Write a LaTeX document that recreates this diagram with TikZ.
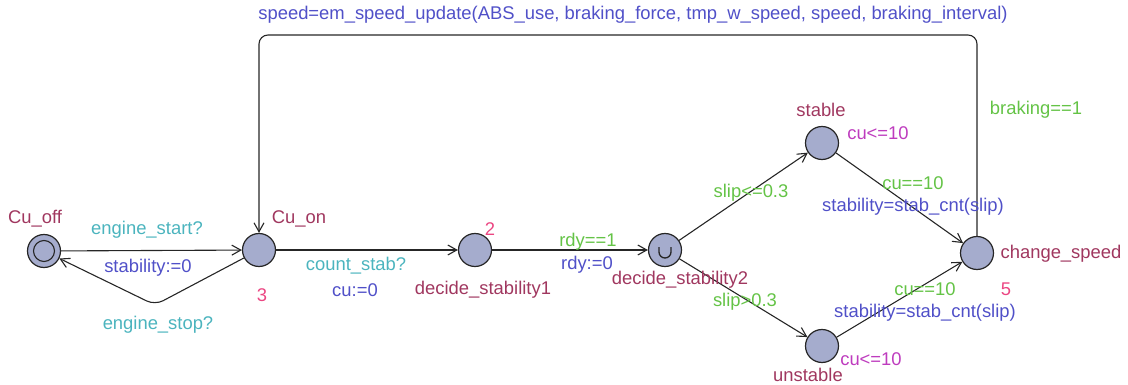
\documentclass[tikz,border=0pt]{standalone}
\usepackage{fontspec}
\setmainfont{Liberation Sans}
\usetikzlibrary{arrows.meta}
\definecolor{locname}{RGB}{160,55,95}
\definecolor{sync}{RGB}{75,180,190}
\definecolor{assign}{RGB}{80,80,200}
\definecolor{guard}{RGB}{100,195,70}
\definecolor{inv}{RGB}{190,60,190}
\definecolor{rate}{RGB}{235,70,130}
\definecolor{locfill}{RGB}{165,172,205}
\tikzset{
  loc/.style={circle,draw=black!85,line width=1.2pt,fill=locfill,minimum size=33pt,inner sep=0pt},
  lbl/.style={font=\fontsize{18.4}{21}\selectfont,inner sep=0pt},
  nm/.style={lbl,text=locname},
  sy/.style={lbl,text=sync},
  as/.style={lbl,text=assign},
  gd/.style={lbl,text=guard},
  iv/.style={lbl,text=inv},
  rt/.style={lbl,text=rate},
  edge/.style={draw=black!85,line width=1.1pt,-{Straight Barb[length=9pt,width=10pt,line width=1.1pt]}},
}
\begin{document}
\begin{tikzpicture}[x=1pt,y=-1pt]
\useasboundingbox (0,0) rectangle (1128,385);
% locations
\node[loc] (off) at (44,251) {};
\draw[draw=black!85,line width=1.1pt] (off.center) circle[radius=10.5];
\node[loc] (on) at (259,250) {};
\node[loc] (ds1) at (475,250) {};
\node[loc] (ds2) at (665,250) {};
% committed mark
\draw[draw=black!85,line width=1.3pt] ([shift={(-6,-3)}]ds2.center) -- ++(0,5) arc[start angle=180,end angle=0,radius=6] -- ++(0,-5);
\node[loc] (st) at (822,143) {};
\node[loc] (un) at (822,346) {};
\node[loc] (cs) at (977,253) {};
% bend points
\coordinate (stopbend) at (155,305);
\coordinate (topR) at (977,35);
\coordinate (topL) at (259,35);
% edges
\draw[edge] (off) -- (on);
\draw[edge,rounded corners=9pt] (on) -- (stopbend) -- (off);
\draw[edge] (on) -- (ds1);
\draw[edge] (ds1) -- (ds2);
\draw[edge] (ds2) -- (st);
\draw[edge] (ds2) -- (un);
\draw[edge] (st) -- (cs);
\draw[edge] (un) -- (cs);
\draw[edge,rounded corners=9pt] (cs) -- (topR) -- (topL) -- (on);
% location names and invariants
\node[nm] (offn) at (35,219) {Cu\_off};
\node[nm] (onn) at (299,219) {Cu\_on};
\node[rt] (onr) at (262,295) {3};
\node[nm] (ds1n) at (483,290) {decide\_stability1};
\node[rt] (ds1r) at (490,229) {2};
\node[nm] (ds2n) at (680,280) {decide\_stability2};
\node[nm] (stn) at (821,110) {stable};
\node[iv] (sti) at (878,133) {cu<=10};
\node[nm] (unn) at (808,375) {unstable};
\node[iv] (uni) at (871,359) {cu<=10};
\node[nm] (csn) at (1061,254) {change\_speed};
\node[rt] (csr) at (1006,289) {5};
% edge labels
\node[sy] at (147,230) {engine\_start?};
\node[as] at (148,268) {stability:=0};
\node[sy] at (158,325) {engine\_stop?};
\node[sy] at (356,266) {count\_stab?};
\node[as] at (355,290) {cu:=0};
\node[gd] at (588,242) {rdy==1};
\node[as] at (587,265) {rdy:=0};
\node[gd] at (751,193) {slip<=0.3};
\node[gd] at (745,302) {slip>0.3};
\node[gd] at (913,183) {cu==10};
\node[as] at (913,207) {stability=stab\_cnt(slip)};
\node[gd] at (925,289) {cu==10};
\node[as] at (925,313) {stability=stab\_cnt(slip)};
\node[gd] at (1036,110) {braking==1};
\node[as] at (633,15) {speed=em\_speed\_update(ABS\_use, braking\_force, tmp\_w\_speed, speed, braking\_interval)};
\end{tikzpicture}
\end{document}
